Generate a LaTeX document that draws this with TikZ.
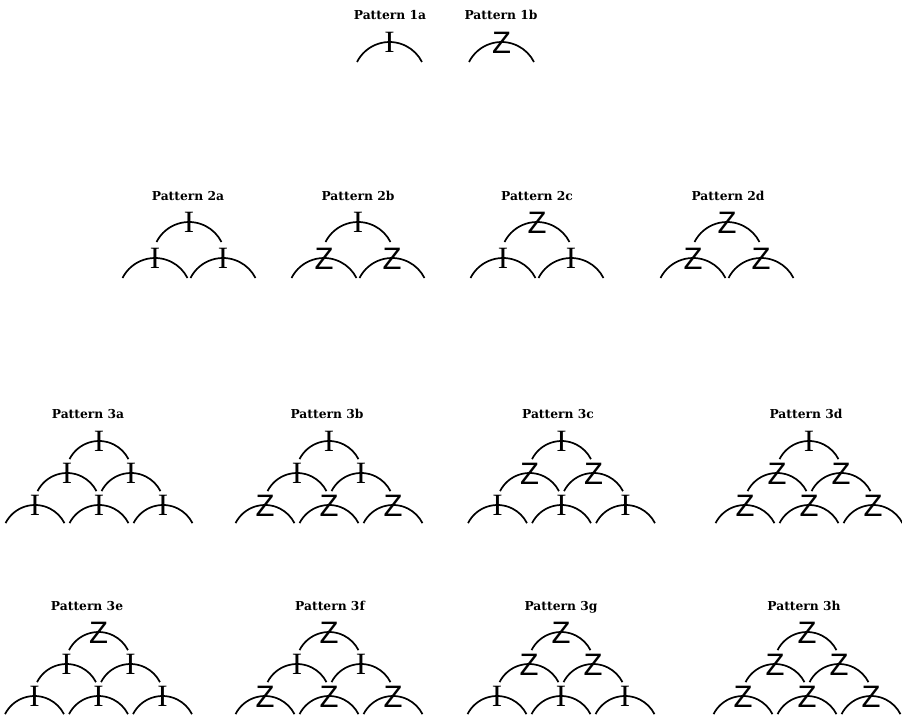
\documentclass[tikz,border=0pt]{standalone}
\usepackage{fontspec}
\setmainfont{Liberation Serif}
\newfontfamily\labelfont{DejaVu Serif}
\newfontfamily\zfont{Liberation Sans}
\newfontfamily\ifont{Liberation Serif}
\tikzset{
  archline/.style={line width=1.7pt},
  plabel/.style={font=\labelfont\bfseries\fontsize{12.3}{12.3}\selectfont, anchor=base, inner sep=0pt},
  gI/.style={font=\ifont\fontsize{31}{31}\selectfont, anchor=base, inner sep=0pt, yshift=-10.3pt},
  gZ/.style={font=\zfont\fontsize{31}{31}\selectfont, anchor=base, inner sep=0pt, yshift=-11.7pt},
  pics/arcunit/.style n args={2}{code={
    \draw[archline] (0,-#2) ++(153.2:#2) arc[start angle=153.2,end angle=26.8,radius=#2];
    \node[g#1] (-g) at (0,0) {#1};
  }}
}
% two-level pattern: name, centre x, top glyph, bottom glyph
\newcommand\dyadpat[4]{%
  \pic (#1t) at (#2,-222) {arcunit={#3}{36.4}};
  \pic (#1l) at ({#2-34},-258) {arcunit={#4}{36.4}};
  \pic (#1r) at ({#2+34},-258) {arcunit={#4}{36.4}};
}
% three-level pattern: name, centre x, top apex y, top, middle, bottom glyphs
\newcommand\triadpat[6]{%
  \pic (#1t) at (#2,-#3) {arcunit={#4}{33}};
  \pic (#1ml) at ({#2-32},{-#3-32}) {arcunit={#5}{33}};
  \pic (#1mr) at ({#2+32},{-#3-32}) {arcunit={#5}{33}};
  \pic (#1bl) at ({#2-64},{-#3-64}) {arcunit={#6}{33}};
  \pic (#1bc) at (#2,{-#3-64}) {arcunit={#6}{33}};
  \pic (#1br) at ({#2+64},{-#3-64}) {arcunit={#6}{33}};
}
\begin{document}
\begin{tikzpicture}[x=1pt,y=1pt]
\fill[white] (0,0) rectangle (902,-717);
\useasboundingbox (0,0) rectangle (902,-717);

% Row 1
\node[plabel] (l1a) at (390,-19.4) {Pattern 1a};
\node[plabel] (l1b) at (501,-19.4) {Pattern 1b};
\pic (p1a) at (389.5,-42) {arcunit={I}{36.4}};
\pic (p1b) at (501.5,-42) {arcunit={Z}{36.4}};

% Row 2
\node[plabel] (l2a) at (188,-200.4) {Pattern 2a};
\node[plabel] (l2b) at (358,-200.4) {Pattern 2b};
\node[plabel] (l2c) at (537,-200.4) {Pattern 2c};
\node[plabel] (l2d) at (728,-200.4) {Pattern 2d};
\dyadpat{p2a}{189}{I}{I}
\dyadpat{p2b}{358}{I}{Z}
\dyadpat{p2c}{537}{Z}{I}
\dyadpat{p2d}{727}{Z}{Z}

% Row 3
\node[plabel] (l3a) at (88,-418.4) {Pattern 3a};
\node[plabel] (l3b) at (327,-418.4) {Pattern 3b};
\node[plabel] (l3c) at (558,-418.4) {Pattern 3c};
\node[plabel] (l3d) at (806,-418.4) {Pattern 3d};
\triadpat{p3a}{99}{441}{I}{I}{I}
\triadpat{p3b}{329}{441}{I}{I}{Z}
\triadpat{p3c}{561.5}{441}{I}{Z}{I}
\triadpat{p3d}{809}{441}{I}{Z}{Z}

% Row 4
\node[plabel] (l3e) at (87,-610.4) {Pattern 3e};
\node[plabel] (l3f) at (330,-610.4) {Pattern 3f};
\node[plabel] (l3g) at (561,-610.4) {Pattern 3g};
\node[plabel] (l3h) at (804,-610.4) {Pattern 3h};
\triadpat{p3e}{98.5}{632}{Z}{I}{I}
\triadpat{p3f}{329}{632}{Z}{I}{Z}
\triadpat{p3g}{561}{632}{Z}{Z}{I}
\triadpat{p3h}{807}{632}{Z}{Z}{Z}
\end{tikzpicture}
\end{document}
